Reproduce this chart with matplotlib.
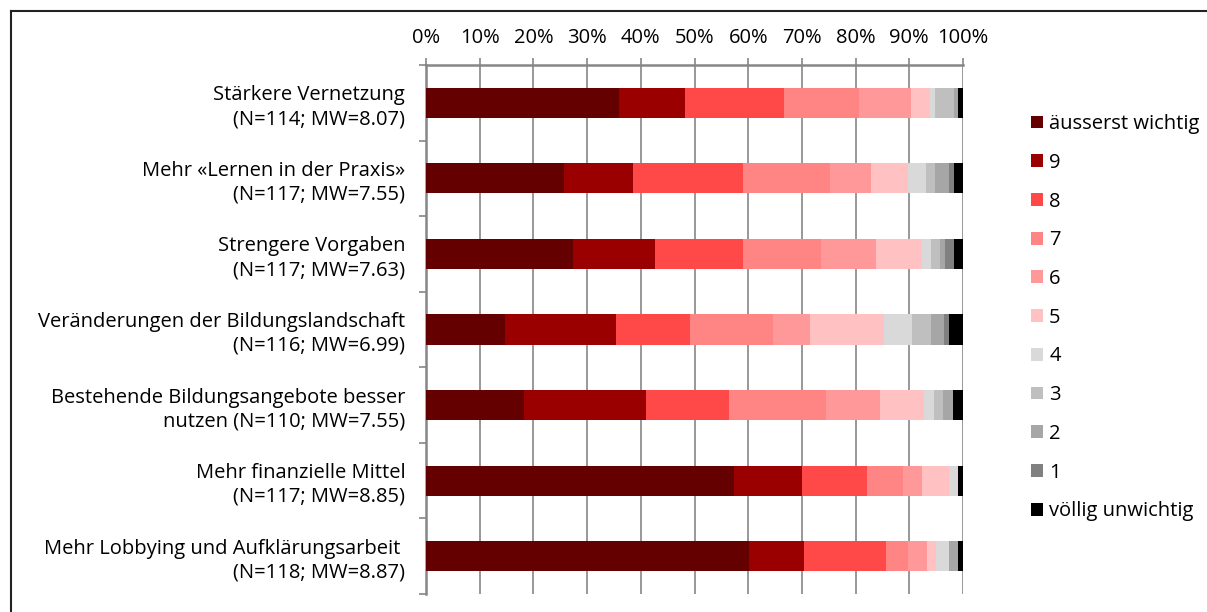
import numpy as np
import matplotlib
matplotlib.use("Agg")
import matplotlib.pyplot as plt
from matplotlib.lines import Line2D
from matplotlib.patches import Patch

plt.rcParams['font.family'] = ['Open Sans', 'DejaVu Sans']

categories = [
    "Stärkere Vernetzung\n(N=114; MW=8.07)",
    "Mehr «Lernen in der Praxis»\n(N=117; MW=7.55)",
    "Strengere Vorgaben\n(N=117; MW=7.63)",
    "Veränderungen der Bildungslandschaft\n(N=116; MW=6.99)",
    "Bestehende Bildungsangebote besser\nnutzen (N=110; MW=7.55)",
    "Mehr finanzielle Mittel\n(N=117; MW=8.85)",
    "Mehr Lobbying und Aufklärungsarbeit \n(N=118; MW=8.87)",
]
levels = ["äusserst wichtig", "9", "8", "7", "6", "5", "4", "3", "2", "1", "völlig unwichtig"]
colors = ["#640000", "#9b0000", "#ff4949", "#ff8585", "#ff9999", "#ffc1c1",
          "#d9d9d9", "#bfbfbf", "#a6a6a6", "#808080", "#000000"]

# answer counts per category, from "äusserst wichtig" down to "völlig unwichtig"
counts = np.array([
    [41, 14, 21, 16, 11, 4, 1, 4, 1, 0, 1],
    [30, 15, 24, 19, 9, 8, 4, 2, 3, 1, 2],
    [32, 18, 19, 17, 12, 10, 2, 2, 1, 2, 2],
    [17, 24, 16, 18, 8, 16, 6, 4, 3, 1, 3],
    [20, 25, 17, 20, 11, 9, 2, 2, 2, 0, 2],
    [67, 15, 14, 8, 4, 6, 2, 0, 0, 0, 1],
    [71, 12, 18, 5, 4, 2, 3, 0, 2, 0, 1],
])
shares = counts / counts.sum(axis=1, keepdims=True)

W, H = 1207, 612
fig = plt.figure(figsize=(W / 100, H / 100), dpi=100)
ax = fig.add_axes([426 / W, 1 - 594 / H, (963 - 426) / W, (594 - 65) / H])

fs = 14.5
grid_c = "#868686"
y = np.arange(len(categories))
left = np.zeros(len(categories))
for j, lev in enumerate(levels):
    ax.barh(y, shares[:, j], left=left, height=0.4, color=colors[j],
            linewidth=0, zorder=3)
    left += shares[:, j]

ax.set_xlim(0, 1)
ax.set_ylim(len(categories) - 0.5, -0.5)
ax.xaxis.tick_top()
ax.set_xticks(np.linspace(0, 1, 11))
ax.set_xticklabels([f"{int(round(v * 100))}%" for v in np.linspace(0, 1, 11)])
ax.tick_params(axis='x', direction='out', length=5, width=1.2, color=grid_c,
               labelsize=fs, pad=7, labelcolor="#000000")
ax.grid(axis='x', color=grid_c, linewidth=1.2, zorder=0)

ax.set_yticks(y)
ax.set_yticklabels(categories, fontsize=fs, linespacing=1.25)
ax.tick_params(axis='y', length=0, pad=15)
ax.set_yticks(np.arange(-0.5, len(categories)), minor=True)
ax.tick_params(axis='y', which='minor', length=5, width=1.2, color=grid_c)

for s in ['right', 'bottom']:
    ax.spines[s].set_visible(False)
for s in ['top', 'left']:
    ax.spines[s].set_color(grid_c)
    ax.spines[s].set_linewidth(1.8)

handles = [Patch(facecolor=c, edgecolor='none') for c in colors]
leg = fig.legend(handles, levels, loc='upper left',
                 bbox_to_anchor=(1023 / W, 1 - 106 / H), frameon=False,
                 fontsize=fs, handlelength=0.6, handleheight=0.6,
                 handletextpad=0.3, labelspacing=0.93, borderaxespad=0)

# outer frame (clipped at right and bottom)
fig.add_artist(Line2D([11 / W, 11 / W], [0, 1 - 11 / H], transform=fig.transFigure,
                      color="#222222", linewidth=1.5))
fig.add_artist(Line2D([11 / W, 1], [1 - 11 / H, 1 - 11 / H], transform=fig.transFigure,
                      color="#222222", linewidth=1.5))

fig.savefig("out.png", dpi=100)
